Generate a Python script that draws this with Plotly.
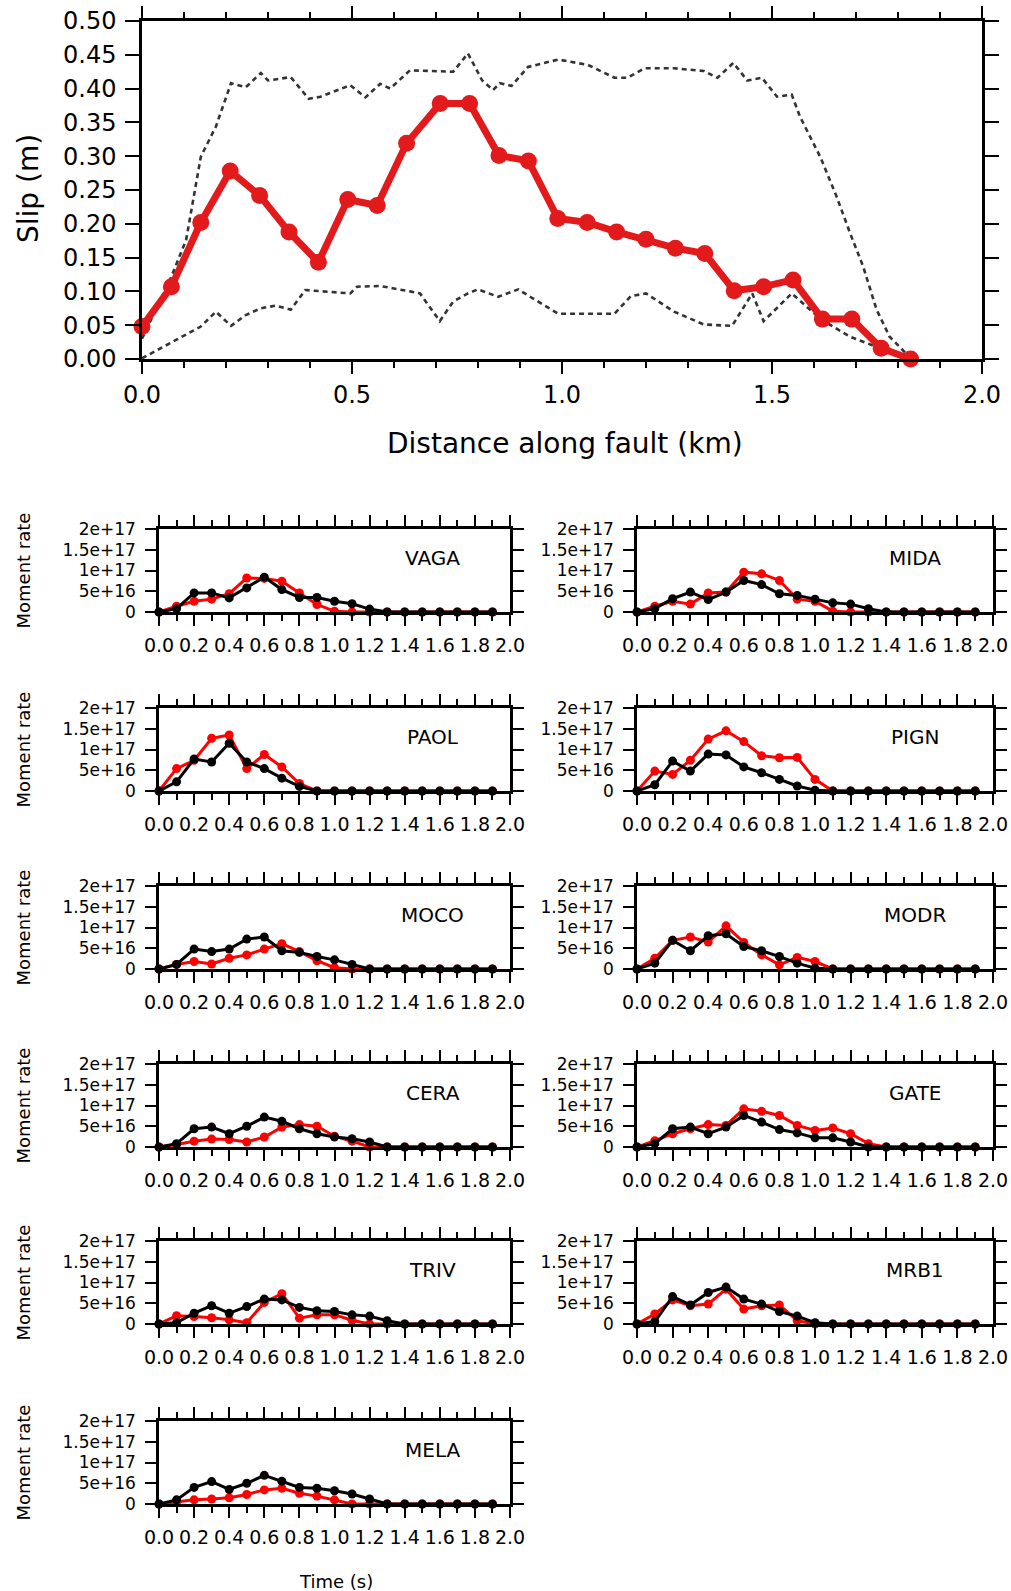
import plotly.graph_objects as go

# ---------------- top panel data ----------------
distance_km = [0.0, 0.07, 0.14, 0.21, 0.28, 0.35, 0.42, 0.49, 0.56, 0.63, 0.71, 0.78, 0.85, 0.92,
               0.99, 1.06, 1.13, 1.20, 1.27, 1.34, 1.41, 1.48, 1.55, 1.62, 1.69, 1.76, 1.83]
slip_m = [0.048, 0.107, 0.202, 0.278, 0.242, 0.188, 0.143, 0.236, 0.227, 0.319, 0.378, 0.378, 0.301, 0.293,
          0.208, 0.202, 0.188, 0.177, 0.164, 0.156, 0.101, 0.107, 0.117, 0.059, 0.059, 0.016, 0.0]

upper_x = [0.0, 0.07, 0.105, 0.14, 0.176, 0.212, 0.247, 0.283, 0.30, 0.354, 0.397, 0.425, 0.496, 0.532,
           0.567, 0.591, 0.638, 0.705, 0.741, 0.776, 0.81, 0.836, 0.852, 0.88, 0.919, 0.991, 1.062, 1.125,
           1.156, 1.196, 1.267, 1.338, 1.37, 1.408, 1.441, 1.476, 1.512, 1.547, 1.567, 1.615, 1.654, 1.686,
           1.717, 1.749, 1.78, 1.826]
upper_y = [0.03, 0.122, 0.176, 0.299, 0.344, 0.408, 0.402, 0.423, 0.412, 0.417, 0.385, 0.388, 0.405, 0.387,
           0.407, 0.400, 0.427, 0.426, 0.425, 0.452, 0.412, 0.398, 0.408, 0.404, 0.432, 0.443, 0.435, 0.416,
           0.416, 0.430, 0.430, 0.426, 0.416, 0.438, 0.412, 0.416, 0.388, 0.391, 0.358, 0.299, 0.240, 0.186,
           0.137, 0.073, 0.033, 0.004]

lower_x = [0.0, 0.07, 0.14, 0.176, 0.212, 0.247, 0.283, 0.318, 0.354, 0.389, 0.425, 0.496, 0.512, 0.567,
           0.638, 0.662, 0.709, 0.741, 0.776, 0.80, 0.848, 0.896, 0.927, 0.991, 1.125, 1.164, 1.20, 1.267,
           1.338, 1.405, 1.453, 1.48, 1.547, 1.618, 1.686, 1.757, 1.826]
lower_y = [0.001, 0.024, 0.048, 0.070, 0.049, 0.065, 0.075, 0.079, 0.073, 0.102, 0.100, 0.097, 0.107, 0.108,
           0.100, 0.097, 0.056, 0.085, 0.097, 0.103, 0.092, 0.103, 0.091, 0.067, 0.067, 0.093, 0.097, 0.070,
           0.051, 0.049, 0.097, 0.056, 0.097, 0.058, 0.033, 0.016, 0.001]

# ---------------- moment-rate panels (values in units of 1e16) ----------------
time_s = [0.0, 0.1, 0.2, 0.3, 0.4, 0.5, 0.6, 0.7, 0.8, 0.9, 1.0, 1.1, 1.2, 1.3, 1.4, 1.5, 1.6, 1.7, 1.8, 1.9]

stations = ["VAGA", "MIDA", "PAOL", "PIGN", "MOCO", "MODR", "CERA", "GATE", "TRIV", "MRB1", "MELA"]

VAGA_black = [0, 0.8, 4.6, 4.6, 3.4, 5.8, 8.4, 5.4, 3.5, 3.5, 2.6, 2.0, 0.7, 0, 0, 0, 0, 0, 0, 0]
VAGA_red = [0, 1.4, 2.6, 3.1, 4.4, 8.2, 8.1, 7.4, 4.6, 1.8, 0.2, 0, 0, 0, 0, 0, 0, 0, 0, 0]
MIDA_black = [0, 0.8, 3.2, 4.8, 3.0, 4.8, 7.6, 6.6, 4.4, 4.0, 3.1, 2.2, 1.9, 0.8, 0, 0, 0, 0, 0, 0]
MIDA_red = [0, 1.4, 2.6, 1.9, 4.6, 4.8, 9.6, 9.2, 7.6, 3.1, 2.6, 0.2, 0, 0, 0, 0, 0, 0, 0, 0]
PAOL_black = [0, 2.2, 7.7, 7.0, 11.5, 7.0, 5.4, 3.1, 1.1, 0, 0, 0, 0, 0, 0, 0, 0, 0, 0, 0]
PAOL_red = [0, 5.4, 7.4, 12.7, 13.5, 5.4, 8.8, 5.8, 1.8, 0, 0, 0, 0, 0, 0, 0, 0, 0, 0, 0]
PIGN_black = [0, 1.5, 7.2, 4.8, 8.9, 8.7, 5.8, 4.4, 2.8, 1.2, 0.2, 0, 0, 0, 0, 0, 0, 0, 0, 0]
PIGN_red = [0, 4.8, 4.0, 7.4, 12.5, 14.5, 11.9, 8.5, 8.0, 8.1, 2.8, 0, 0, 0, 0, 0, 0, 0, 0, 0]
MOCO_black = [0, 1.1, 4.8, 4.2, 4.8, 7.2, 7.7, 4.4, 4.0, 3.0, 2.2, 1.1, 0, 0, 0, 0, 0, 0, 0, 0]
MOCO_red = [0, 1.1, 1.8, 1.2, 2.6, 3.4, 4.8, 6.1, 4.2, 2.0, 0.3, 0, 0, 0, 0, 0, 0, 0, 0, 0]
MODR_black = [0, 1.4, 6.9, 4.4, 8.0, 8.5, 5.4, 4.4, 3.0, 1.4, 0.2, 0, 0, 0, 0, 0, 0, 0, 0, 0]
MODR_red = [0, 2.6, 6.9, 7.7, 6.5, 10.4, 6.4, 3.4, 1.0, 2.8, 1.8, 0, 0, 0, 0, 0, 0, 0, 0, 0]
CERA_black = [0, 0.8, 4.4, 4.8, 3.2, 5.0, 7.2, 6.2, 4.4, 3.2, 2.4, 2.0, 1.2, 0, 0, 0, 0, 0, 0, 0]
CERA_red = [0, 0.6, 1.4, 1.9, 1.8, 1.2, 2.4, 4.8, 5.4, 5.0, 2.6, 1.4, 0, 0, 0, 0, 0, 0, 0, 0]
GATE_black = [0, 0.8, 4.4, 4.8, 3.2, 4.8, 7.6, 6.0, 4.2, 3.4, 2.2, 2.2, 1.2, 0, 0, 0, 0, 0, 0, 0]
GATE_red = [0, 1.5, 3.2, 4.4, 5.4, 5.2, 9.2, 8.6, 7.6, 5.2, 4.0, 4.6, 3.2, 0.8, 0, 0, 0, 0, 0, 0]
TRIV_black = [0, 0.3, 2.6, 4.4, 2.6, 4.2, 6.0, 5.8, 4.0, 3.2, 3.0, 2.2, 1.9, 0.8, 0, 0, 0, 0, 0, 0]
TRIV_red = [0, 2.0, 1.8, 1.5, 1.0, 0.3, 5.2, 7.3, 1.4, 2.2, 2.2, 0.9, 0, 0, 0, 0, 0, 0, 0, 0]
MRB1_black = [0, 0.6, 6.6, 4.6, 7.6, 8.9, 6.0, 4.8, 3.0, 1.9, 0.3, 0, 0, 0, 0, 0, 0, 0, 0, 0]
MRB1_red = [0, 2.4, 5.8, 4.4, 4.8, 8.4, 3.6, 4.4, 4.6, 0.8, 0, 0, 0, 0, 0, 0, 0, 0, 0, 0]
MELA_black = [0, 1.0, 4.0, 5.4, 3.5, 5.0, 6.9, 5.5, 4.0, 3.8, 3.2, 2.4, 1.2, 0, 0, 0, 0, 0, 0, 0]
MELA_red = [0, 0.5, 1.0, 1.2, 1.5, 2.3, 3.4, 3.8, 2.6, 1.9, 1.0, 0, 0, 0, 0, 0, 0, 0, 0, 0]

black_series = [VAGA_black, MIDA_black, PAOL_black, PIGN_black, MOCO_black, MODR_black,
                CERA_black, GATE_black, TRIV_black, MRB1_black, MELA_black]
red_series = [VAGA_red, MIDA_red, PAOL_red, PIGN_red, MOCO_red, MODR_red,
              CERA_red, GATE_red, TRIV_red, MRB1_red, MELA_red]

rate_tickvals = [0, 5, 10, 15, 20]
rate_ticktext = ["0", "5e+16", "1e+17", "1.5e+17", "2e+17"]

# ---------------- layout geometry (pixels) ----------------
W, H = 1011, 1591
FONT = "DejaVu Sans"


def px_x(a, b):
    return [a / W, b / W]


def px_y(top, bottom):
    return [1 - bottom / H, 1 - top / H]


fig = go.Figure()

# top panel traces
fig.add_trace(go.Scatter(x=upper_x, y=upper_y, mode="lines", xaxis="x", yaxis="y",
                         line=dict(color="#333333", width=2.6, dash="5px,4px"), showlegend=False,
                         cliponaxis=False))
fig.add_trace(go.Scatter(x=lower_x, y=lower_y, mode="lines", xaxis="x", yaxis="y",
                         line=dict(color="#333333", width=2.6, dash="5px,4px"), showlegend=False,
                         cliponaxis=False))
fig.add_trace(go.Scatter(x=distance_km, y=slip_m, mode="lines+markers", xaxis="x", yaxis="y",
                         line=dict(color="#e31a1c", width=7), marker=dict(color="#e31a1c", size=17),
                         showlegend=False, cliponaxis=False))

layout = dict(
    template="none",
    width=W, height=H, margin=dict(l=0, r=0, t=0, b=0, pad=0, autoexpand=False),
    paper_bgcolor="white", plot_bgcolor="white", showlegend=False,
    font=dict(family=FONT, color="black"),
)

axis_common = dict(showline=True, linewidth=2.5, linecolor="black", mirror="allticks",
                   ticks="outside", tickcolor="black", tickwidth=1.8, showgrid=False, zeroline=False,
                   automargin=False)

layout["xaxis"] = dict(axis_common, domain=px_x(142, 982), anchor="y", range=[0, 2], dtick=0.5, tick0=0,
                       tickformat=".1f", ticklen=12, tickfont=dict(size=24, family=FONT, color="black"),
                       ticklabelstandoff=0,
                       minor=dict(dtick=0.1, tick0=0, ticks="outside", ticklen=6, tickwidth=1.8,
                                  tickcolor="black", showgrid=False))
layout["yaxis"] = dict(axis_common, domain=px_y(21, 359), anchor="x", range=[0, 0.5], dtick=0.05, tick0=0,
                       tickformat=".2f", ticklen=14, tickfont=dict(size=24, family=FONT, color="black"),
                       ticklabelstandoff=4)

annotations = [
    dict(text="Slip (m)", x=28 / W, y=1 - 189 / H, xref="paper", yref="paper", showarrow=False,
         textangle=-90, font=dict(size=28, family=FONT, color="black"), xanchor="center", yanchor="middle"),
    dict(text="Distance along fault (km)", x=565 / W, y=1 - 443 / H, xref="paper", yref="paper",
         showarrow=False, font=dict(size=28, family=FONT, color="black"), xanchor="center", yanchor="middle"),
]

col_px = [(159, 510), (637, 993)]
row_tops = [529, 708, 886, 1064, 1241, 1421]
panel_h = 83

for i, name in enumerate(stations):
    k = i + 2
    row, col = divmod(i, 2)
    xa, xb = col_px[col]
    top = row_tops[row]
    bottom = top + panel_h
    xname, yname = f"x{k}", f"y{k}"
    fig.add_trace(go.Scatter(x=time_s, y=red_series[i], mode="lines+markers", xaxis=xname, yaxis=yname,
                             line=dict(color="#ff0000", width=3), marker=dict(color="#ff0000", size=9),
                             showlegend=False, cliponaxis=False))
    fig.add_trace(go.Scatter(x=time_s, y=black_series[i], mode="lines+markers", xaxis=xname, yaxis=yname,
                             line=dict(color="black", width=3), marker=dict(color="black", size=9),
                             showlegend=False, cliponaxis=False))
    layout[f"xaxis{k}"] = dict(axis_common, domain=px_x(xa, xb), anchor=yname, range=[0, 2], dtick=0.2,
                               tick0=0, tickformat=".1f", ticklen=11,
                               tickfont=dict(size=19, family=FONT, color="black"),
                               ticklabelstandoff=3,
                               minor=dict(dtick=0.1, tick0=0, ticks="outside", ticklen=6, tickwidth=1.8,
                                          tickcolor="black", showgrid=False))
    layout[f"yaxis{k}"] = dict(axis_common, domain=px_y(top, bottom), anchor=xname, range=[0, 20],
                               tickvals=rate_tickvals, ticktext=rate_ticktext, ticklen=11,
                               tickfont=dict(size=17, family=FONT, color="black"), ticklabelstandoff=6)
    annotations.append(dict(text=name, x=1.56, y=13, xref=xname, yref=yname, showarrow=False,
                            font=dict(size=20, family=FONT, color="black"),
                            xanchor="center", yanchor="middle"))
    if col == 0:
        annotations.append(dict(text="Moment rate", x=23 / W, y=1 - (top + bottom) / 2 / H, xref="paper",
                                yref="paper", showarrow=False, textangle=-90,
                                font=dict(size=18, family=FONT, color="black"),
                                xanchor="center", yanchor="middle"))

annotations.append(dict(text="Time (s)", x=336 / W, y=1 - 1581 / H, xref="paper", yref="paper",
                        showarrow=False, font=dict(size=18, family=FONT, color="black"),
                        xanchor="center", yanchor="middle"))

layout["annotations"] = annotations
fig.update_layout(layout)
fig.write_html("out.html")
